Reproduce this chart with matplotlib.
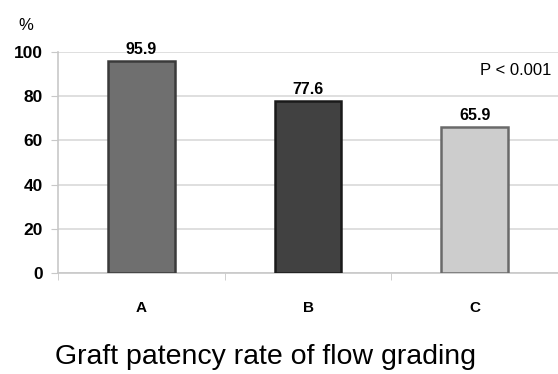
import matplotlib
matplotlib.use("Agg")
import matplotlib.pyplot as plt
import numpy as np

categories = ["A", "B", "C"]
values = [95.9, 77.6, 65.9]
bar_colors = ["#6f6f6f", "#414141", "#cdcdcd"]
edge_colors = ["#3a3a3a", "#1a1a1a", "#6a6a6a"]
y_ticks = [0, 20, 40, 60, 80, 100]

plt.rcParams["font.family"] = ["Liberation Sans", "DejaVu Sans"]

fig = plt.figure(figsize=(5.58, 3.74), dpi=100)
ax = fig.add_axes([0.104, 0.270, 0.896, 0.591])

x = np.arange(len(categories))
bars = ax.bar(x, values, width=0.4, color=bar_colors, edgecolor=edge_colors, linewidth=1.8, zorder=3)

for xi, v in zip(x, values):
    ax.text(xi, v + 2.0, f"{v:.1f}", ha="center", va="bottom", fontsize=11.5, fontweight="bold")

ax.set_xlim(-0.5, 2.5)
ax.set_ylim(0, 100)
ax.set_yticks(y_ticks)
ax.set_yticklabels([str(t) for t in y_ticks], fontsize=12.5, fontweight="bold")
ax.set_xticks(x)
ax.set_xticklabels(categories, fontsize=11, fontweight="bold")
ax.tick_params(axis="x", length=0, pad=20)
ax.tick_params(axis="y", length=5, color="#c8c8c8", pad=6)

# category separator ticks on the x axis
ax.set_xticks([-0.5, 0.5, 1.5, 2.5], minor=True)
ax.tick_params(axis="x", which="minor", length=5, color="#c8c8c8")

ax.grid(axis="y", color="#d9d9d9", linewidth=1.2, zorder=0)
for side in ["top", "right"]:
    ax.spines[side].set_visible(False)
ax.spines["left"].set_color("#c8c8c8")
ax.spines["bottom"].set_color("#c8c8c8")
ax.spines["left"].set_linewidth(1.2)
ax.spines["bottom"].set_linewidth(1.2)

fig.text(0.047, 0.933, "%", fontsize=12, ha="center", va="center")
ax.text(2.46, 91.5, "P < 0.001", fontsize=12, ha="right", va="center")

fig.text(0.475, 0.045, "Graft patency rate of flow grading", fontsize=20.5,
         ha="center", va="center")

fig.savefig("out.png", dpi=100)
